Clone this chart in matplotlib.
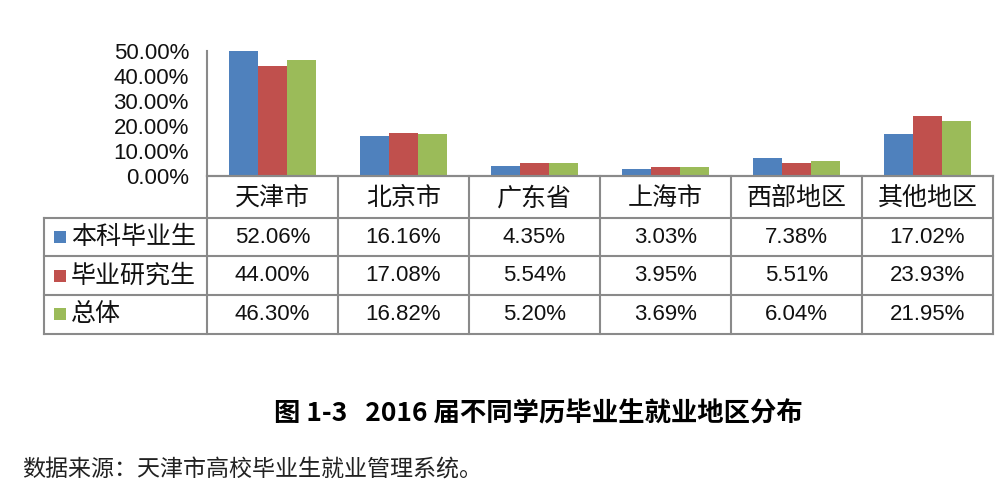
import matplotlib
matplotlib.use("Agg")
import matplotlib.pyplot as plt
from matplotlib.patches import Rectangle
import numpy as np

# ---- data ----
categories = ["天津市", "北京市", "广东省", "上海市", "西部地区", "其他地区"]
series_names = ["本科毕业生", "毕业研究生", "总体"]
undergrad = [52.06, 16.16, 4.35, 3.03, 7.38, 17.02]
graduate = [44.00, 17.08, 5.54, 3.95, 5.51, 23.93]
overall = [46.30, 16.82, 5.20, 3.69, 6.04, 21.95]
series_values = [undergrad, graduate, overall]
colors = ["#4F81BD", "#C0504D", "#9BBB59"]
yticks = [0, 10, 20, 30, 40, 50]
title = "图 1-3   2016 届不同学历毕业生就业地区分布"
source = "数据来源：天津市高校毕业生就业管理系统。"

CJK = ["Noto Sans CJK SC", "DejaVu Sans"]
NUM = ["Liberation Sans", "DejaVu Sans"]
GRID = "#8a8a8a"

W, H = 1008, 494
fig = plt.figure(figsize=(W / 100, H / 100), dpi=100)
fig.patch.set_facecolor("white")

def fx(px):
    return px / W

def fy(py):
    return 1 - py / H

# geometry (pixels)
ax_left, ax_right = 207, 993
ax_top, ax_bottom = 50.6, 176.5
tbl_left = 44
rows_y = [176.5, 218, 256.5, 295, 333.5]
col_w = (ax_right - ax_left) / len(categories)

# ---- bar chart ----
ax = fig.add_axes([fx(ax_left), fy(ax_bottom), fx(ax_right - ax_left), (ax_bottom - ax_top) / H])
x = np.arange(len(categories))
bw = 0.22
for k, (vals, c) in enumerate(zip(series_values, colors)):
    ax.bar(x + (k - 1) * bw, vals, width=bw, color=c, edgecolor="none")
ax.set_xlim(-0.5, len(categories) - 0.5)
ax.set_ylim(0, 50)
ax.set_yticks(yticks)
ax.set_yticklabels([f"{v:.2f}%" for v in yticks], fontsize=16, family=NUM, color="#111111")
ax.tick_params(axis="y", length=0, pad=13)
ax.set_xticks([])
for s in ["top", "right"]:
    ax.spines[s].set_visible(False)
ax.spines["left"].set_color(GRID)
ax.spines["left"].set_linewidth(1.5)
ax.spines["bottom"].set_color(GRID)
ax.spines["bottom"].set_linewidth(1.5)
ax.patch.set_alpha(0)

# ---- data table ----
tax = fig.add_axes([fx(tbl_left), fy(rows_y[-1]), fx(ax_right - tbl_left), (rows_y[-1] - rows_y[0]) / H])
xL = -0.5 - (ax_left - tbl_left) / col_w
tax.set_xlim(xL, len(categories) - 0.5)
tax.set_ylim(rows_y[-1], rows_y[0])
tax.axis("off")

lw = 1.5
# horizontal lines
tax.plot([-0.5, len(categories) - 0.5], [rows_y[0], rows_y[0]], color=GRID, lw=lw, clip_on=False)
for yy in rows_y[1:]:
    tax.plot([xL, len(categories) - 0.5], [yy, yy], color=GRID, lw=lw, clip_on=False)
# vertical lines
tax.plot([xL, xL], [rows_y[1], rows_y[-1]], color=GRID, lw=lw, clip_on=False)
for k in range(len(categories) + 1):
    xx = -0.5 + k
    tax.plot([xx, xx], [rows_y[0], rows_y[-1]], color=GRID, lw=lw, clip_on=False)

# header
for i, cat in enumerate(categories):
    tax.text(i, (rows_y[0] + rows_y[1]) / 2 + 1, cat, ha="center", va="center",
             fontsize=18, family=CJK, color="#111111")

# rows
px_unit = 1 / col_w
for r, (name, vals, c) in enumerate(zip(series_names, series_values, colors)):
    yc = (rows_y[r + 1] + rows_y[r + 2]) / 2
    tax.add_patch(Rectangle((xL + (54 - tbl_left) * px_unit, yc - 6), 12 * px_unit, 12,
                            facecolor=c, edgecolor="none", clip_on=False))
    tax.text(xL + (71 - tbl_left) * px_unit, yc, name, ha="left", va="center",
             fontsize=18, family=CJK, color="#111111")
    for i, v in enumerate(vals):
        tax.text(i, yc, f"{v:.2f}%", ha="center", va="center",
                 fontsize=16, family=NUM, color="#111111")

# ---- title and source ----
fig.text(fx(538), fy(414), title, ha="center", va="center", fontsize=19,
         fontweight="bold", family=CJK, color="#000000")
fig.text(fx(22), fy(470), source, ha="left", va="center", fontsize=16.6,
         family=CJK, color="#222222")

fig.savefig("out.png", dpi=100, facecolor="white")
